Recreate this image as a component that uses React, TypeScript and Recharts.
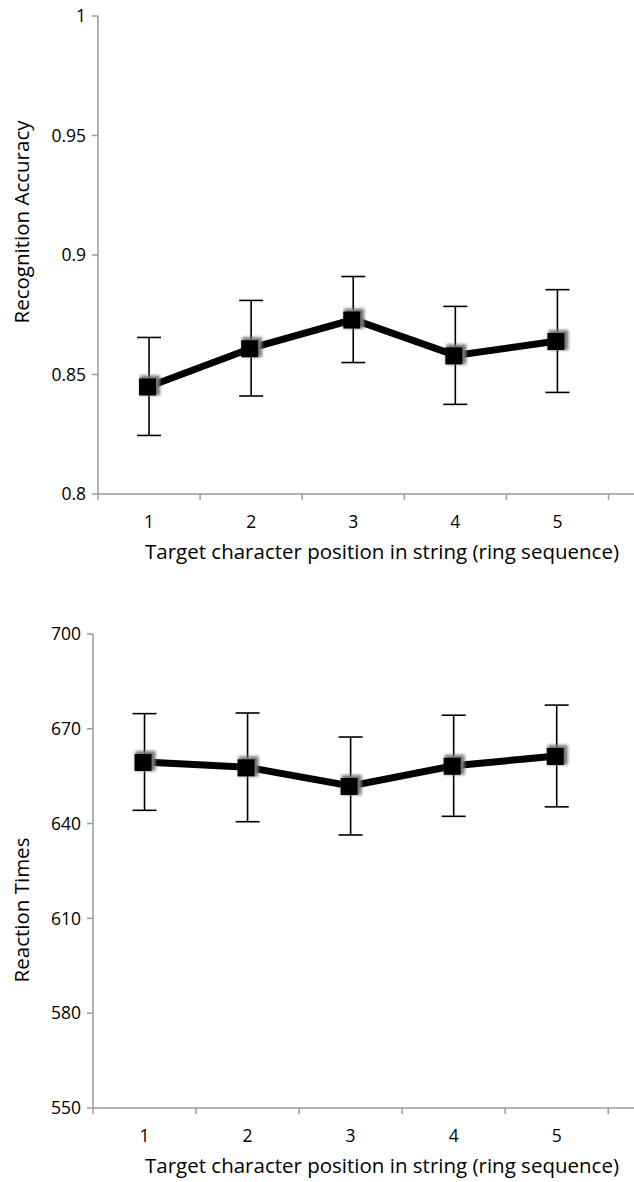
import React from 'react';
import { LineChart, Line, XAxis, YAxis, ErrorBar, Label } from 'recharts';

const POSITIONS = [1, 2, 3, 4, 5];
const ACC_MEAN = [0.845, 0.861, 0.873, 0.858, 0.864];
const ACC_ERR = [0.0205, 0.02, 0.018, 0.0205, 0.0215];
const RT_MEAN = [659.5, 657.8, 651.9, 658.3, 661.4];
const RT_ERR = [15.3, 17.2, 15.5, 16, 16.1];
const ACC_TICKS = [0.8, 0.85, 0.9, 0.95, 1];
const RT_TICKS = [550, 580, 610, 640, 670, 700];
const X_TICKS = [0.5, 1, 1.5, 2, 2.5, 3, 3.5, 4, 4.5, 5, 5.5];
const X_TITLE = 'Target character position in string (ring sequence)';
const ACC_TITLE = 'Recognition Accuracy';
const RT_TITLE = 'Reaction Times';

const ACC_DATA = POSITIONS.map((p, i) => ({ pos: p, mean: ACC_MEAN[i], err: ACC_ERR[i] }));
const RT_DATA = POSITIONS.map((p, i) => ({ pos: p, mean: RT_MEAN[i], err: RT_ERR[i] }));

const FONT = '"Open Sans", Lato, sans-serif';
const AXIS = '#9a9a9a';
const TICK_FS = 17.5;
const TITLE_FS = 20.5;

const XTick = (props: any) => {
  const { x, y, payload } = props;
  const v = payload.value;
  if (Number.isInteger(v)) {
    return (
      <text x={x} y={y + 34} textAnchor="middle" fontFamily={FONT} fontSize={TICK_FS} fill="#000">
        {v}
      </text>
    );
  }
  return <line x1={x} x2={x} y1={y} y2={y + 6} stroke={AXIS} strokeWidth={1.5} />;
};

const SquareDot = (props: any) => {
  const { cx, cy, index } = props;
  if (cx == null || cy == null) return <g key={`d${index}`} />;
  return (
    <g key={`d${index}`}>
      <defs>
        <filter id="blurSq" x="-50%" y="-50%" width="200%" height="200%">
          <feGaussianBlur stdDeviation="1.4" />
        </filter>
      </defs>
      <rect x={cx - 9} y={cy - 11} width={20} height={20} fill="#777" filter="url(#blurSq)" />
      <rect x={cx - 10} y={cy - 8} width={17} height={17} fill="#000" />
    </g>
  );
};

const xTitle = (dy: number) => (p: any) => {
  const vb = p.viewBox;
  return (
    <text x={382} y={vb.y + dy} textAnchor="middle" fontFamily={FONT} fontSize={TITLE_FS} fill="#000">
      {X_TITLE}
    </text>
  );
};

const yTitle = (text: string, cy: number) => (p: any) => (
  <text x={29} y={cy} transform={`rotate(-90 29 ${cy})`} textAnchor="middle" fontFamily={FONT} fontSize={TITLE_FS} fill="#000">
    {text}
  </text>
);

type PanelProps = {
  data: any[];
  top: number;
  height: number;
  marginTop: number;
  axisWidth: number;
  xAxisHeight: number;
  domain: [number, number];
  ticks: number[];
  title: string;
  titleY: number;
  xTitleDy: number;
};

const Panel = (p: PanelProps) => (
  <div style={{ position: 'absolute', left: 0, top: p.top }}>
    <LineChart width={634} height={p.height} data={p.data} margin={{ top: p.marginTop, right: 0, bottom: 0, left: 0 }}>
      <XAxis
        type="number"
        dataKey="pos"
        domain={[0.5, 5.75]}
        ticks={X_TICKS}
        interval={0}
        allowDataOverflow
        height={p.xAxisHeight}
        tickSize={0}
        tickMargin={0}
        tickLine={false}
        axisLine={{ stroke: AXIS, strokeWidth: 1.5 }}
        tick={<XTick />}
      >
        <Label content={xTitle(p.xTitleDy)} />
      </XAxis>
      <YAxis
        type="number"
        domain={p.domain}
        ticks={p.ticks}
        interval={0}
        allowDataOverflow
        width={p.axisWidth}
        tickSize={6}
        tickMargin={6}
        axisLine={{ stroke: AXIS, strokeWidth: 1.5 }}
        tickLine={{ stroke: AXIS, strokeWidth: 1.5 }}
        tick={{ fill: '#000', fontSize: TICK_FS, fontFamily: FONT }}
      >
        <Label content={yTitle(p.title, p.titleY)} />
      </YAxis>
      <Line
        type="linear"
        dataKey="mean"
        stroke="#000"
        strokeWidth={7}
        dot={SquareDot}
        activeDot={false}
        isAnimationActive={false}
      >
        <ErrorBar dataKey="err" direction="y" width={12} stroke="#000" strokeWidth={1.6} isAnimationActive={false} />
      </Line>
    </LineChart>
  </div>
);

export default function App() {
  return (
    <div style={{ position: 'absolute', left: 0, top: 0, width: 634, height: 1182, background: '#fff', overflow: 'hidden' }}>
      <Panel
        data={ACC_DATA}
        top={0}
        height={580}
        marginTop={16}
        axisWidth={98}
        xAxisHeight={86}
        domain={[0.8, 1]}
        ticks={ACC_TICKS}
        title={ACC_TITLE}
        titleY={222}
        xTitleDy={65}
      />
      <Panel
        data={RT_DATA}
        top={620}
        height={562}
        marginTop={14}
        axisWidth={93}
        xAxisHeight={74}
        domain={[550, 700]}
        ticks={RT_TICKS}
        title={RT_TITLE}
        titleY={290}
        xTitleDy={65}
      />
    </div>
  );
}
